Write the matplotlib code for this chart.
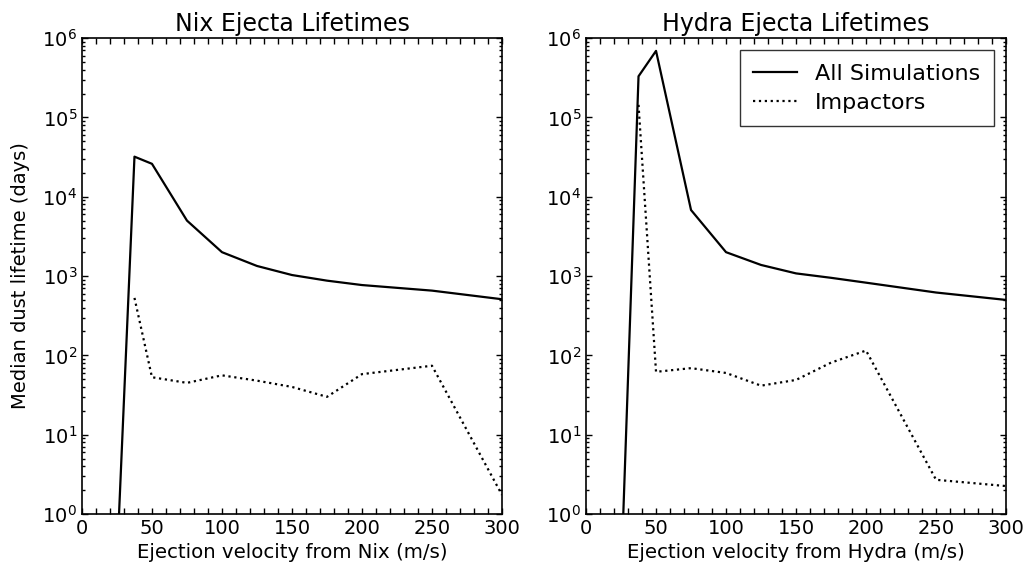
import matplotlib
matplotlib.use("Agg")
import matplotlib.pyplot as plt
from matplotlib.ticker import FixedLocator, NullFormatter

# ejection velocities (m/s)
vel = [25, 37.5, 50, 75, 100, 125, 150, 175, 200, 250, 300]

# Nix
nix_all = [0.25, 3.2e4, 2.6e4, 5.0e3, 2.0e3, 1.34e3, 1.03e3, 875, 770, 655, 510]
nix_imp = [None, 530, 53, 45, 56, 48, 40, 30, 58, 74, 1.74]

# Hydra
hydra_all = [0.15, 3.3e5, 6.9e5, 6.8e3, 2.0e3, 1.38e3, 1.08e3, 950, 825, 620, 500]
hydra_imp = [None, 1.44e5, 62, 69, 60, 41.5, 49, 81, 115, 2.7, 2.25]


def strip(x, y):
    pts = [(a, b) for a, b in zip(x, y) if b is not None]
    return [p[0] for p in pts], [p[1] for p in pts]


plt.rcParams['font.family'] = ['DejaVu Sans']
plt.rcParams['font.size'] = 14

fig = plt.figure(figsize=(10.31, 5.72), dpi=100)
ax1 = fig.add_axes([0.0795, 0.1014, 0.4074, 0.832])
ax2 = fig.add_axes([0.5684, 0.1014, 0.4074, 0.832])

panels = [
    (ax1, nix_all, nix_imp, 'Nix Ejecta Lifetimes', 'Ejection velocity from Nix (m/s)'),
    (ax2, hydra_all, hydra_imp, 'Hydra Ejecta Lifetimes', 'Ejection velocity from Hydra (m/s)'),
]

ymajor = [10.0 ** k for k in range(7)]
yminor = [m * 10.0 ** k for k in range(6) for m in range(2, 10)]

for ax, sim, imp, title, xlabel in panels:
    ax.set_yscale('log')
    ax.plot(vel, sim, color='k', lw=1.6, ls='-', label='All Simulations')
    xi, yi = strip(vel, imp)
    ax.plot(xi, yi, color='k', lw=1.6, ls=':', label='Impactors')
    ax.set_xlim(0, 300)
    ax.set_ylim(1, 1e6)
    ax.set_title(title, fontsize=17, pad=5)
    ax.set_xlabel(xlabel, fontsize=14.2, labelpad=4)
    ax.set_xticks(range(0, 301, 50))
    ax.xaxis.set_minor_locator(FixedLocator([t for t in range(0, 301, 10) if t % 50]))
    ax.xaxis.set_minor_formatter(NullFormatter())
    ax.yaxis.set_major_locator(FixedLocator(ymajor))
    ax.yaxis.set_minor_locator(FixedLocator(yminor))
    ax.yaxis.set_minor_formatter(NullFormatter())
    ax.tick_params(which='both', direction='in', top=True, right=True, width=1, labelsize=14)
    ax.tick_params(which='major', length=4.5)
    ax.tick_params(axis='x', which='minor', length=4.5)
    ax.tick_params(axis='y', which='minor', length=2.5)
    for s in ax.spines.values():
        s.set_linewidth(1.2)

ax1.set_ylabel('Median dust lifetime (days)', fontsize=14, labelpad=8.5)

leg = ax2.legend(loc='upper right', fancybox=False, fontsize=16, handlelength=2,
                 borderpad=0.6, labelspacing=0.4, borderaxespad=0.55)
leg.get_frame().set_edgecolor('k')
leg.get_frame().set_linewidth(1.0)

fig.savefig('out.png', dpi=100)
